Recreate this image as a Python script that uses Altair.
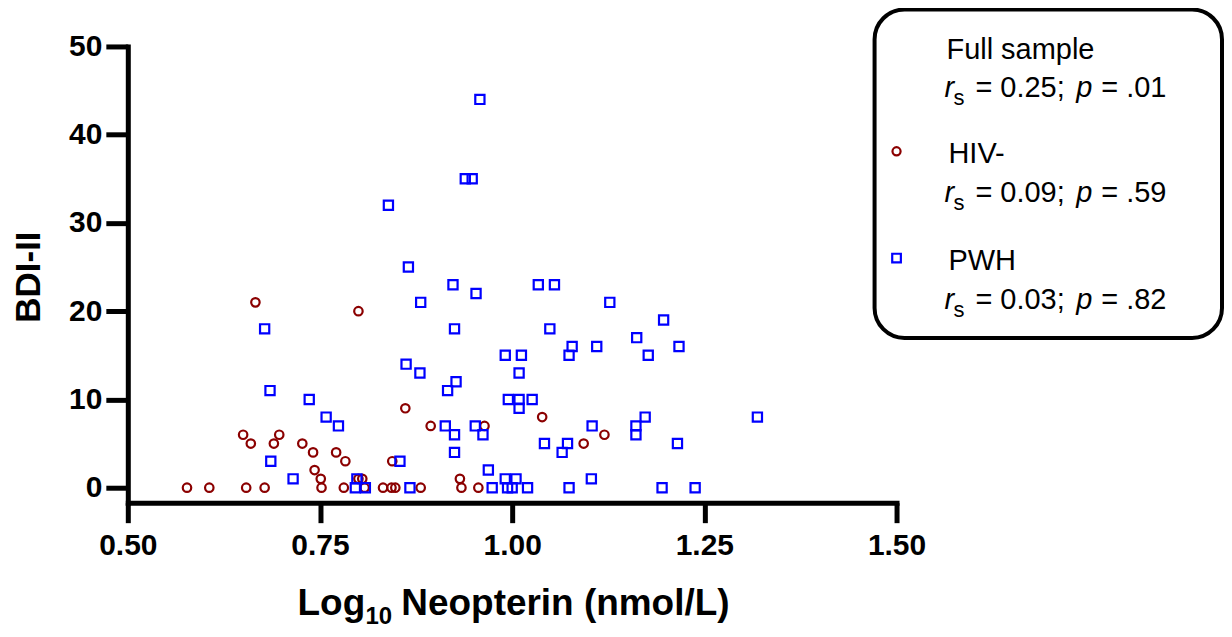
import altair as alt
import pandas as pd

# ---- data ----
hiv_x = [0.666, 0.800, 0.650, 0.697, 0.660, 0.690, 0.727, 0.741, 0.771, 0.783,
         0.743, 0.751, 0.800, 0.805, 0.577, 0.606, 0.654, 0.678, 0.752, 0.781,
         0.808, 0.832, 0.843, 0.848, 0.881, 0.861, 1.039, 0.894, 0.964, 1.120,
         1.093, 0.844, 0.932, 0.934, 0.956]
hiv_y = [21, 20, 6, 6, 5, 5, 5, 4, 4, 3,
         2, 1, 1, 1, 0, 0, 0, 0, 0, 0,
         0, 0, 0, 0, 0, 9, 8, 7, 7, 6,
         5, 3, 1, 0, 0]

pwh_x = [0.958, 0.939, 0.948, 0.839, 0.865, 0.923, 1.034, 1.055, 0.953, 0.881,
         1.127, 1.197, 0.678, 0.925, 1.049, 1.162, 1.078, 1.110, 1.217, 0.991,
         1.012, 1.074, 1.177, 0.862, 0.880, 1.009, 0.927, 0.685, 0.916, 0.736,
         0.995, 1.009, 1.026, 1.009, 0.758, 1.173, 1.319, 0.774, 0.913, 0.952,
         1.104, 1.161, 0.925, 0.962, 1.161, 1.042, 1.072, 1.215, 1.065, 0.925,
         0.686, 0.854, 0.969, 0.715, 0.798, 0.991, 1.005, 1.103, 0.796, 0.809,
         0.867, 0.974, 0.994, 1.000, 1.020, 1.074, 1.195, 1.238]
pwh_y = [44, 35, 35, 32, 25, 23, 23, 23, 22, 21,
         21, 19, 18, 18, 18, 17, 16, 16, 16, 15,
         15, 15, 15, 14, 13, 13, 12, 11, 11, 10,
         10, 10, 10, 9, 8, 8, 8, 7, 7, 7,
         7, 7, 6, 6, 6, 5, 5, 5, 4, 4,
         3, 3, 2, 1, 1, 1, 1, 1, 0, 0,
         0, 0, 0, 0, 0, 0, 0, 0]

x_ticks = [0.5, 0.75, 1.0, 1.25, 1.5]
y_ticks = [0, 10, 20, 30, 40, 50]

legend_title = "Full sample"
legend_groups = ["HIV-", "PWH"]
stats_r = ["= 0.25;", "= 0.09;", "= 0.03;"]
stats_p = ["= .01", "= .59", "= .82"]

FONT = "Liberation Sans"
RED = "#8B0000"
BLUE = "#0000FF"
OX, OY = 128, 46  # plot origin in page pixels

hiv = pd.DataFrame({"neo": hiv_x, "bdi": hiv_y})
pwh = pd.DataFrame({"neo": pwh_x, "bdi": pwh_y})
one = pd.DataFrame({"k": [0]})

xscale = alt.Scale(domain=[0.5, 1.5], nice=False, zero=False)
yscale = alt.Scale(domain=[-1.7, 50], nice=False, zero=False)

axis_common = dict(
    labelFont=FONT, labelFontWeight="bold", labelColor="black", labelFontSize=30,
    tickColor="black", tickWidth=5, domainColor="black", domainWidth=5,
    domainCap="square", grid=False, title=None, labelFlush=False,
)
xaxis = alt.Axis(values=x_ticks, format=".2f", tickSize=20, labelPadding=8, **axis_common)
yaxis = alt.Axis(values=y_ticks, format="d", tickSize=22, labelPadding=4, **axis_common)

pts_hiv = alt.Chart(hiv).mark_point(
    shape="circle", filled=False, color=RED, size=72, strokeWidth=2.2, opacity=1
).encode(
    x=alt.X("neo:Q", scale=xscale, axis=xaxis),
    y=alt.Y("bdi:Q", scale=yscale, axis=yaxis),
)
pts_pwh = alt.Chart(pwh).mark_point(
    shape="square", filled=False, color=BLUE, size=85, strokeWidth=2.2, opacity=1
).encode(
    x=alt.X("neo:Q", scale=xscale),
    y=alt.Y("bdi:Q", scale=yscale),
)


def txt(s, px, py, size=29, weight="normal", style="normal", align="left",
        baseline="alphabetic", angle=0):
    kw = dict(font=FONT, fontSize=size, fontWeight=weight, fontStyle=style,
              align=align, baseline=baseline, color="black")
    if angle:
        kw["angle"] = angle
    return alt.Chart(one).mark_text(**kw).encode(
        x=alt.value(px - OX), y=alt.value(py - OY), text=alt.value(s)
    )


layers = [pts_hiv, pts_pwh]

# axis titles
layers.append(txt("BDI-II", 29, 277, size=35, weight="bold", align="center",
                  baseline="middle", angle=270))
layers.append(txt("Log", 298, 615, size=37, weight="bold"))
layers.append(txt("10", 366, 625, size=24, weight="bold"))
layers.append(txt("Neopterin (nmol/L)", 402, 615, size=37, weight="bold"))

# legend box
box = alt.Chart(one).mark_rect(
    fillOpacity=0, stroke="black", strokeWidth=4, cornerRadius=30
).encode(
    x=alt.value(876 - OX), x2=alt.value(1224 - OX),
    y=alt.value(9 - OY), y2=alt.value(338 - OY),
)
layers.append(box)

# legend markers
layers.append(alt.Chart(one).mark_point(
    shape="circle", filled=False, color=RED, size=66, strokeWidth=2.2, opacity=1
).encode(x=alt.value(898 - OX), y=alt.value(151 - OY)))
layers.append(alt.Chart(one).mark_point(
    shape="square", filled=False, color=BLUE, size=75, strokeWidth=2.2, opacity=1
).encode(x=alt.value(898 - OX), y=alt.value(258 - OY)))

# legend texts
head_texts = [legend_title] + legend_groups
head_base = [59, 163, 270]
stat_base = [97, 202, 309]
head_left = [948, 950, 950]
for i in range(3):
    layers.append(txt(head_texts[i], head_left[i], head_base[i]))
    b = stat_base[i]
    layers.append(txt("r", 946, b, style="italic"))
    layers.append(txt("s", 955, b + 8, size=22))
    layers.append(txt(stats_r[i], 977, b))
    layers.append(txt("p", 1078, b, style="italic"))
    layers.append(txt(stats_p[i], 1103, b))

chart = alt.layer(*layers).properties(
    width=770, height=457,
    autosize=alt.AutoSizeParams(type="none"),
    padding={"left": 120, "top": 38, "right": 328, "bottom": 126},
).configure(font=FONT).configure_view(stroke=None)

chart.save("out.html", embed_options={"renderer": "svg", "actions": False})
